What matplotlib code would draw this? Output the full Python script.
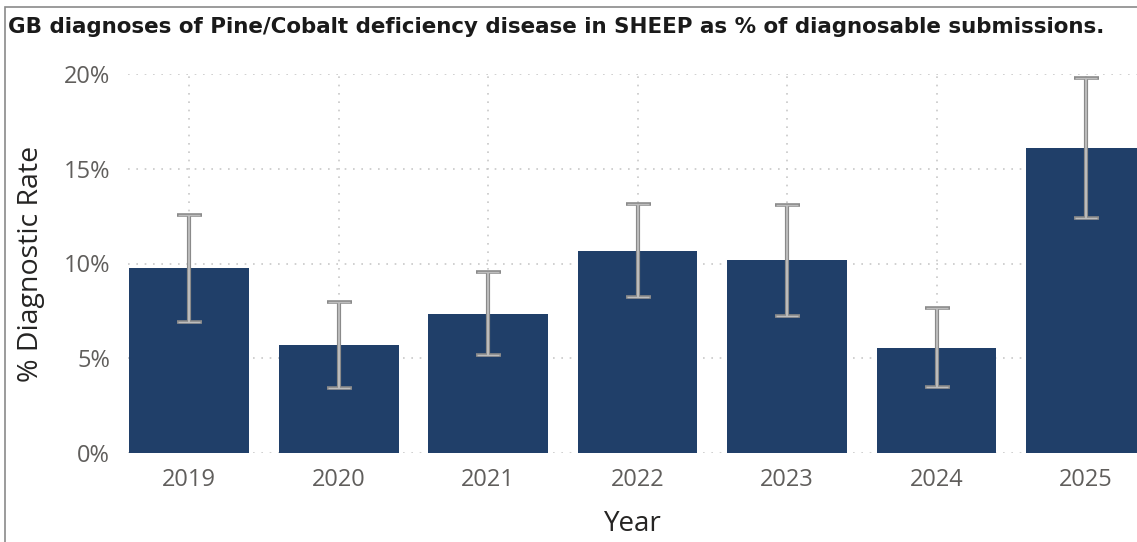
import matplotlib
matplotlib.use("Agg")
import matplotlib.pyplot as plt
from matplotlib.patches import Rectangle

# values (percent)
years = ["2019", "2020", "2021", "2022", "2023", "2024", "2025"]
rate = [9.76, 5.70, 7.33, 10.66, 10.18, 5.56, 16.08]
ci_low = [6.91, 3.43, 5.17, 8.23, 7.23, 3.50, 12.42]
ci_high = [12.56, 7.97, 9.55, 13.14, 13.09, 7.63, 19.80]
y_ticks = [0, 5, 10, 15, 20]

bar_color = "#203F69"
tick_color = "#605E5C"
label_color = "#252423"

plt.rcParams["font.family"] = ["Open Sans", "DejaVu Sans"]

W, H = 1137, 542
fig = plt.figure(figsize=(W / 100, H / 100), dpi=100)

# frame round the visual
fig.add_artist(Rectangle((5 / W, -0.1), 1.2, (H - 7) / H + 0.1, transform=fig.transFigure,
                         fill=False, edgecolor="#8A8A8A", linewidth=1.2))

ax = fig.add_axes([128 / W, (H - 453) / H, (W - 128) / W, (453 - 74) / H])

x = list(range(len(years)))
err_lo = [r - l for r, l in zip(rate, ci_low)]
err_hi = [h - r for r, h in zip(rate, ci_high)]

ax.bar(x, rate, width=0.8, color=bar_color, zorder=2)
ax.errorbar(x, rate, yerr=[err_lo, err_hi], fmt="none", ecolor="#8A8A8A",
            elinewidth=3.0, capsize=9, capthick=2.6, zorder=3)
ax.errorbar(x, rate, yerr=[err_lo, err_hi], fmt="none", ecolor="#BDBDBD",
            elinewidth=1.4, capsize=8, capthick=1.0, zorder=4)

ax.set_xlim(-0.41, (W - 189) / 149.5)
ax.set_ylim(0, 20)
ax.set_xticks(x)
ax.set_xticklabels(years)
ax.set_yticks(y_ticks)
ax.set_yticklabels([f"{t}%" for t in y_ticks])
ax.tick_params(length=0, labelsize=17, labelcolor=tick_color)
ax.tick_params(axis="x", pad=11)
ax.tick_params(axis="y", pad=13)

ax.grid(True, color="#C8C8C8", linestyle=(0, (1, 4)), linewidth=1.2, zorder=0)
ax.set_axisbelow(True)
for s in ax.spines.values():
    s.set_visible(False)

ax.set_ylabel("% Diagnostic Rate", fontsize=20.5, color=label_color, labelpad=13)
ax.set_xlabel("Year", fontsize=20, color=label_color, labelpad=13)

fig.text(8 / W, 1 - 27 / H, "GB diagnoses of Pine/Cobalt deficiency disease in SHEEP as % of diagnosable submissions.",
         fontsize=15.4, fontweight="bold", color="#1A1A1A", va="center", ha="left",
         family="DejaVu Sans")

fig.savefig("out.png", dpi=100)
